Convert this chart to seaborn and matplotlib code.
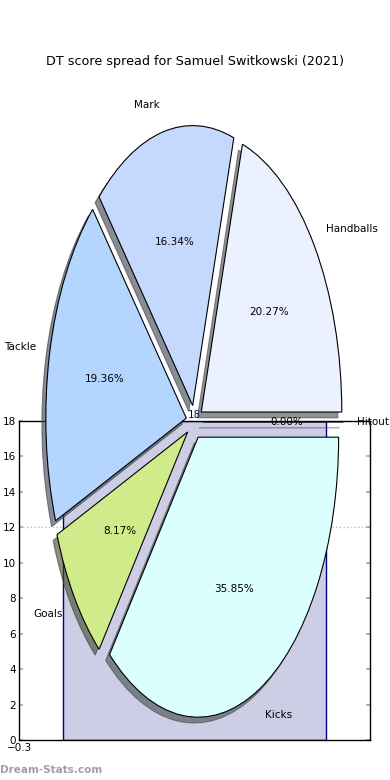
import matplotlib
matplotlib.use("Agg")
import matplotlib.pyplot as plt
import seaborn as sns

# share of DT score per stat (percent), counter-clockwise from 3 o'clock
stats = ["Handballs", "Mark", "Tackle", "Goals", "Kicks", "Hitout"]
share = [20.27, 16.34, 19.36, 8.17, 35.85, 0.00]
slice_colours = ["#ebf1fe", "#c5d8fe", "#b3d5fe", "#cfeb8a", "#dbfffe", "#e6e6fa"]

# background bar (total games) and its reference line
bar_x = [0]
bar_y = [18]
ref_line = 12
yticks = list(range(0, 19, 2))

TITLE = "DT score spread for Samuel Switkowski (2021)"
W, H = 390, 780

sns.set_theme(style="white", rc={"axes.edgecolor": "black", "axes.linewidth": 1.0,
                                 "text.color": "black", "xtick.labelcolor": "black",
                                 "ytick.labelcolor": "black"})
plt.rcParams["font.family"] = ["DejaVu Sans"]

fig = plt.figure(figsize=(W / 100, H / 100), dpi=100)
fig.patch.set_facecolor("white")

# ---- bar axes (sits behind the pie) ----
ax_bar = fig.add_axes([19 / W, 40 / H, 351 / W, 319 / H])
sns.barplot(x=bar_x, y=bar_y, ax=ax_bar, width=0.45, color="#cdcde5",
            saturation=1, edgecolor="#000080", linewidth=1)
ax_bar.bar_label(ax_bar.containers[0], color="#000080", fontsize=7.5, padding=1)
ax_bar.axhline(ref_line, ls=":", color="#bbbbbb", lw=1, zorder=0)
ax_bar.set_xlim(-0.3, 0.3)
ax_bar.set_ylim(0, 18)
ax_bar.set_xticks([-0.3])
ax_bar.set_xticklabels(["\u22120.3"])
ax_bar.set_yticks(yticks)
ax_bar.set_yticklabels([str(v) for v in yticks])
ax_bar.tick_params(axis="both", direction="in", length=3, color="#aaaaaa",
                   labelsize=7.5, pad=2, right=True, left=True, bottom=False,
                   labelcolor="black")
ax_bar.set_xlabel("")
ax_bar.set_ylabel("")
for s in ax_bar.spines.values():
    s.set_visible(True)
    s.set_color("black")

# ---- pie axes on top ----
ax_pie = fig.add_axes([0, 0, 1, 1])
ax_pie.pie(share, labels=stats, colors=slice_colours, explode=[0.06] * len(share),
           autopct="%.2f%%", shadow=dict(ox=-0.02, oy=-0.015, alpha=0.6),
           startangle=0, counterclock=True,
           wedgeprops=dict(edgecolor="black", linewidth=0.8),
           textprops=dict(fontsize=7.5, color="black"))
ax_pie.set_aspect("auto")
cx, cy, rx, ry = 194.5, 358.0, 140.5, 280.0
ax_pie.set_xlim(-cx / rx, (W - cx) / rx)
ax_pie.set_ylim(-cy / ry, (H - cy) / ry)
ax_pie.set_facecolor("none")
ax_pie.axis("off")

fig.text(0.5, 1 - 61 / H, TITLE, ha="center", va="center", fontsize=9.2, color="black")
fig.text(0.0, 1 - 770 / H, "Dream-Stats.com", ha="left", va="center",
         fontsize=7.5, fontweight="bold", color="#a0a0a0")

fig.savefig("out.png", dpi=100)
